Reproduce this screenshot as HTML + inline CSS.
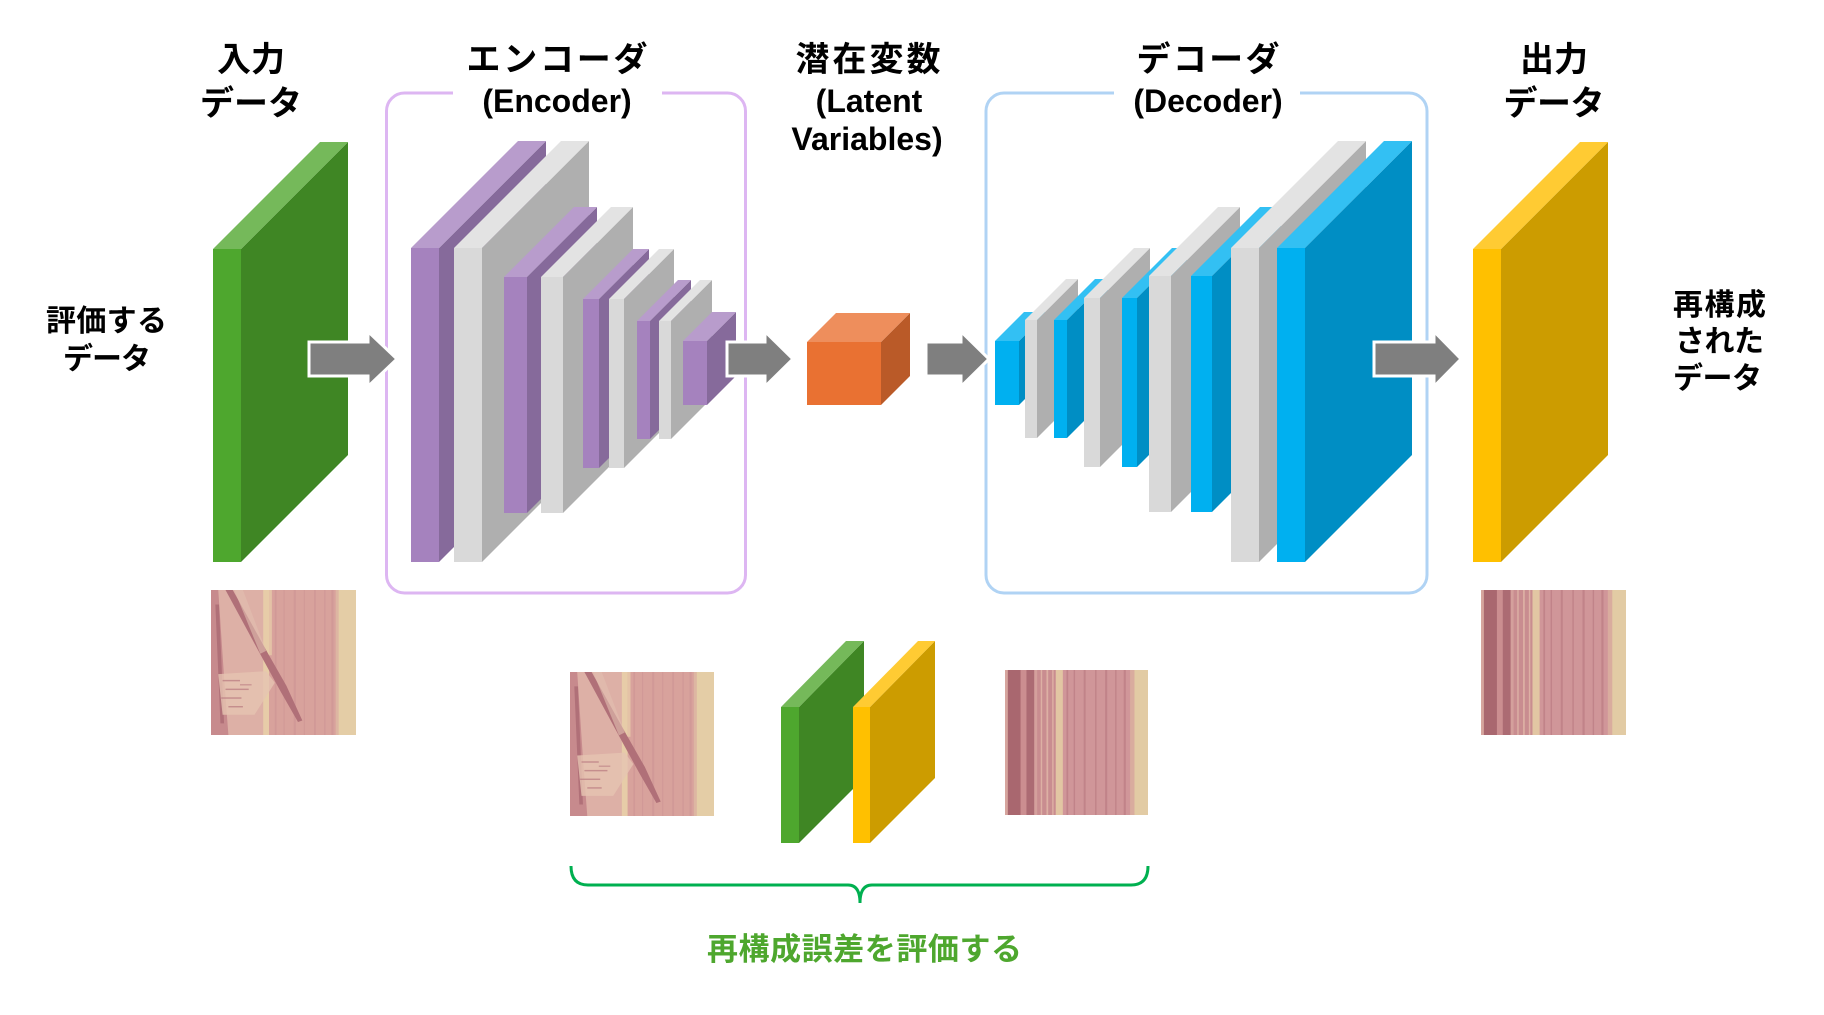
<!DOCTYPE html>
<html><head><meta charset="utf-8">
<style>
html,body{margin:0;padding:0;background:#fff;}
svg{display:block;}
text{font-family:"Liberation Sans","Noto Sans CJK JP",sans-serif;font-weight:bold;}
</style></head>
<body>
<svg width="1824" height="1015" viewBox="0 0 1824 1015" xmlns="http://www.w3.org/2000/svg">
<defs>
<symbol id="imgA" viewBox="0 0 100 100" preserveAspectRatio="none">
  <rect width="100" height="100" fill="#D8A29C"/>
  <rect x="0" y="0" width="38" height="100" fill="#DDB0A6"/>
  <g fill="#C98F92" opacity="0.45">
    <rect x="44" y="0" width="1.2" height="100"/><rect x="50" y="0" width="0.8" height="100"/>
    <rect x="57" y="0" width="1.5" height="100"/><rect x="64" y="0" width="0.8" height="100"/>
    <rect x="71" y="0" width="1.3" height="100"/><rect x="78" y="0" width="1" height="100"/>
    <rect x="83" y="0" width="1.5" height="100"/>
  </g>
  <rect x="36" y="0" width="4" height="100" fill="#E7CCA8"/>
  <rect x="86" y="0" width="2" height="100" fill="#DDB6A2"/>
  <rect x="88" y="0" width="12" height="100" fill="#E4CDA6"/>
  <polygon points="0,0 5,0 9,60 12,100 0,100" fill="#C78A8D"/>
  <polygon points="3,10 5.5,10 9,92 6.5,92" fill="#B07078"/>
  <polygon points="10,0 15,0 40,45 52,66 63,90 60,91 48,70 36,48" fill="#B07078"/>
  <polygon points="16,0 22,0 38,42 34,44" fill="#E3BFB0" opacity="0.6"/>
  <polygon points="5,58 38,56 44,64 30,86 8,86" fill="#E6C4B2" opacity="0.8"/>
  <g fill="#B97A80" opacity="0.7">
    <rect x="8" y="62" width="12" height="1"/><rect x="10" y="68" width="16" height="1"/>
    <rect x="7" y="74" width="14" height="1"/><rect x="12" y="80" width="10" height="1"/>
    <rect x="20" y="65" width="8" height="0.8"/>
  </g>
  <rect x="40" y="0" width="2" height="45" fill="#E9D0AB" opacity="0.7"/>
</symbol>
<symbol id="imgB" viewBox="0 0 100 100" preserveAspectRatio="none">
  <rect width="100" height="100" fill="#D39C9A"/>
  <rect x="0" y="0" width="2" height="100" fill="#D6A59E"/>
  <rect x="2" y="0" width="9" height="100" fill="#A9676F"/>
  <rect x="11" y="0" width="4" height="100" fill="#CB8E90"/>
  <rect x="15" y="0" width="5.5" height="100" fill="#AC6B73"/>
  <rect x="20.5" y="0" width="2" height="100" fill="#D4A09C"/>
  <rect x="22.5" y="0" width="13" height="100" fill="#C98D90"/>
  <g fill="#DDB0A4"><rect x="25" y="0" width="1" height="100"/><rect x="29" y="0" width="1.2" height="100"/><rect x="33" y="0" width="1" height="100"/></g>
  <rect x="35.5" y="0" width="5" height="100" fill="#E2C6A3"/>
  <rect x="40.5" y="0" width="47" height="100" fill="#D09699"/>
  <g fill="#B87880" opacity="0.6">
    <rect x="43" y="0" width="1.2" height="100"/><rect x="48" y="0" width="1" height="100"/>
    <rect x="55" y="0" width="1.4" height="100"/><rect x="63" y="0" width="1" height="100"/>
    <rect x="70" y="0" width="1.5" height="100"/><rect x="77" y="0" width="1" height="100"/>
    <rect x="83" y="0" width="1.5" height="100"/>
  </g>
  <rect x="87.5" y="0" width="3" height="100" fill="#D9AC9E"/>
  <rect x="90.5" y="0" width="9.5" height="100" fill="#E2CBA4"/>
</symbol>
</defs>

<!-- Titles -->
<g fill="#000">
  <text x="251" y="71" font-size="34" text-anchor="middle" textLength="68" lengthAdjust="spacing">入力</text>
  <text x="251" y="115" font-size="34" text-anchor="middle" textLength="102" lengthAdjust="spacing">データ</text>
  <text x="557" y="71" font-size="34" text-anchor="middle" textLength="181" lengthAdjust="spacing">エンコーダ</text>
  <text x="557" y="112" font-size="32" text-anchor="middle">(Encoder)</text>
  <text x="868" y="71" font-size="34" text-anchor="middle" textLength="145" lengthAdjust="spacing">潜在変数</text>
  <text x="869" y="112" font-size="32" text-anchor="middle">(Latent</text>
  <text x="867" y="150" font-size="32" text-anchor="middle">Variables)</text>
  <text x="1208" y="71" font-size="34" text-anchor="middle" textLength="143" lengthAdjust="spacing">デコーダ</text>
  <text x="1208" y="112" font-size="32" text-anchor="middle">(Decoder)</text>
  <text x="1554" y="71" font-size="34" text-anchor="middle" textLength="68" lengthAdjust="spacing">出力</text>
  <text x="1554" y="115" font-size="34" text-anchor="middle" textLength="101" lengthAdjust="spacing">データ</text>
  <text x="106.5" y="331" font-size="30" text-anchor="middle" textLength="121" lengthAdjust="spacing">評価する</text>
  <text x="107" y="369" font-size="30" text-anchor="middle" textLength="88" lengthAdjust="spacing">データ</text>
  <text x="1719.5" y="315" font-size="30" text-anchor="middle" textLength="93" lengthAdjust="spacing">再構成</text>
  <text x="1719.5" y="351.5" font-size="30" text-anchor="middle" textLength="89" lengthAdjust="spacing">された</text>
  <text x="1717.5" y="388.5" font-size="30" text-anchor="middle" textLength="89" lengthAdjust="spacing">データ</text>
</g>

<!-- Boxes -->
<path d="M453,93 L404.5,93 A18,18 0 0 0 386.5,111 L386.5,575 A18,18 0 0 0 404.5,593 L727.5,593 A18,18 0 0 0 745.5,575 L745.5,111 A18,18 0 0 0 727.5,93 L662,93" fill="none" stroke="#DDB6F2" stroke-width="3"/>
<path d="M1114,93 L1004,93 A18,18 0 0 0 986,111 L986,575 A18,18 0 0 0 1004,593 L1409,593 A18,18 0 0 0 1427,575 L1427,111 A18,18 0 0 0 1409,93 L1300,93" fill="none" stroke="#B0D3F4" stroke-width="3"/>

<!-- Input green -->
<polygon points="241,249 348,142 348,455 241,562" fill="#3F8624"/>
<polygon points="213,249 320,142 348,142 241,249" fill="#75B95A"/>
<rect x="213" y="249" width="28" height="313" fill="#4EA72E"/>

<!-- Encoder layers -->
<g>
<polygon points="439,248 546,141 546,455 439,562" fill="#866A9B"/>
<polygon points="411,248 518,141 546,141 439,248" fill="#B89CCC"/>
<rect x="411" y="248" width="28" height="314" fill="#A582BE"/>

<polygon points="482,248 589,141 589,455 482,562" fill="#AFAFAF"/>
<polygon points="454,248 561,141 589,141 482,248" fill="#E3E3E3"/>
<rect x="454" y="248" width="28" height="314" fill="#D9D9D9"/>

<polygon points="527,277 597,207 597,443 527,513" fill="#866A9B"/>
<polygon points="504,277 574,207 597,207 527,277" fill="#B89CCC"/>
<rect x="504" y="277" width="23" height="236" fill="#A582BE"/>

<polygon points="563,277 633,207 633,443 563,513" fill="#AFAFAF"/>
<polygon points="541,277 611,207 633,207 563,277" fill="#E3E3E3"/>
<rect x="541" y="277" width="22" height="236" fill="#D9D9D9"/>

<polygon points="599,299 649,249 649,418 599,468" fill="#866A9B"/>
<polygon points="583,299 633,249 649,249 599,299" fill="#B89CCC"/>
<rect x="583" y="299" width="16" height="169" fill="#A582BE"/>

<polygon points="624,299 674,249 674,418 624,468" fill="#AFAFAF"/>
<polygon points="609,299 659,249 674,249 624,299" fill="#E3E3E3"/>
<rect x="609" y="299" width="15" height="169" fill="#D9D9D9"/>

<polygon points="650,321 691,280 691,398 650,439" fill="#866A9B"/>
<polygon points="637,321 678,280 691,280 650,321" fill="#B89CCC"/>
<rect x="637" y="321" width="13" height="118" fill="#A582BE"/>

<polygon points="671,321 712,280 712,398 671,439" fill="#AFAFAF"/>
<polygon points="659,321 700,280 712,280 671,321" fill="#E3E3E3"/>
<rect x="659" y="321" width="12" height="118" fill="#D9D9D9"/>

<polygon points="707,341 736,312 736,376 707,405" fill="#866A9B"/>
<polygon points="683,341 712,312 736,312 707,341" fill="#B89CCC"/>
<rect x="683" y="341" width="24" height="64" fill="#A582BE"/>
</g>

<!-- Latent cube -->
<polygon points="881,342 910,313 910,376 881,405" fill="#BA5A28"/>
<polygon points="807,342 836,313 910,313 881,342" fill="#EE8E5C"/>
<rect x="807" y="342" width="74" height="63" fill="#E97132"/>

<!-- Decoder layers -->
<g>
<polygon points="1019,341 1048,312 1048,376 1019,405" fill="#008EC4"/>
<polygon points="995,341 1024,312 1048,312 1019,341" fill="#33C0F3"/>
<rect x="995" y="341" width="24" height="64" fill="#00B0F0"/>

<polygon points="1037,320 1078,279 1078,397 1037,438" fill="#AFAFAF"/>
<polygon points="1025,320 1066,279 1078,279 1037,320" fill="#E3E3E3"/>
<rect x="1025" y="320" width="12" height="118" fill="#D9D9D9"/>

<polygon points="1067,320 1108,279 1108,397 1067,438" fill="#008EC4"/>
<polygon points="1054,320 1095,279 1108,279 1067,320" fill="#33C0F3"/>
<rect x="1054" y="320" width="13" height="118" fill="#00B0F0"/>

<polygon points="1100,298 1150,248 1150,417 1100,467" fill="#AFAFAF"/>
<polygon points="1084,298 1134,248 1150,248 1100,298" fill="#E3E3E3"/>
<rect x="1084" y="298" width="16" height="169" fill="#D9D9D9"/>

<polygon points="1137,298 1187,248 1187,417 1137,467" fill="#008EC4"/>
<polygon points="1122,298 1172,248 1187,248 1137,298" fill="#33C0F3"/>
<rect x="1122" y="298" width="15" height="169" fill="#00B0F0"/>

<polygon points="1171,276 1240,207 1240,443 1171,512" fill="#AFAFAF"/>
<polygon points="1149,276 1218,207 1240,207 1171,276" fill="#E3E3E3"/>
<rect x="1149" y="276" width="22" height="236" fill="#D9D9D9"/>

<polygon points="1212,276 1281,207 1281,443 1212,512" fill="#008EC4"/>
<polygon points="1191,276 1260,207 1281,207 1212,276" fill="#33C0F3"/>
<rect x="1191" y="276" width="21" height="236" fill="#00B0F0"/>

<polygon points="1259,248 1366,141 1366,455 1259,562" fill="#AFAFAF"/>
<polygon points="1231,248 1338,141 1366,141 1259,248" fill="#E3E3E3"/>
<rect x="1231" y="248" width="28" height="314" fill="#D9D9D9"/>

<polygon points="1305,248 1412,141 1412,455 1305,562" fill="#008EC4"/>
<polygon points="1277,248 1384,141 1412,141 1305,248" fill="#33C0F3"/>
<rect x="1277" y="248" width="28" height="314" fill="#00B0F0"/>
</g>

<!-- Output yellow -->
<polygon points="1501,249 1608,142 1608,455 1501,562" fill="#CC9C00"/>
<polygon points="1473,249 1580,142 1608,142 1501,249" fill="#FFCB33"/>
<rect x="1473" y="249" width="28" height="313" fill="#FFC000"/>

<!-- Arrows -->
<g fill="#7F7F7F" stroke="#FFFFFF" stroke-width="3" stroke-linejoin="miter">
  <polygon points="309,342 368,342 368,331.5 397,359 368,386.5 368,376 309,376"/>
  <polygon points="727,342 765,342 765,331.5 793,359 765,386.5 765,376 727,376"/>
  <polygon points="926,342 961,342 961,331.5 989,359 961,386.5 961,376 926,376"/>
  <polygon points="1374,342 1434,342 1434,331.5 1461,359 1434,386.5 1434,376 1374,376"/>
</g>

<!-- Images -->
<use href="#imgA" x="211" y="590" width="145" height="145"/>
<use href="#imgA" x="570" y="672" width="144" height="144"/>
<use href="#imgB" x="1005" y="670" width="143" height="145"/>
<use href="#imgB" x="1481" y="590" width="145" height="145"/>

<!-- Small comparison panels -->
<polygon points="799,707 864,641 864,778 799,843" fill="#3F8624"/>
<polygon points="781,707 846,641 864,641 799,707" fill="#75B95A"/>
<rect x="781" y="707" width="18" height="136" fill="#4EA72E"/>
<polygon points="870,707 935,641 935,778 870,843" fill="#CC9C00"/>
<polygon points="853,707 918,641 935,641 870,707" fill="#FFCB33"/>
<rect x="853" y="707" width="17" height="136" fill="#FFC000"/>

<!-- Bracket -->
<path d="M571,866 Q571,885 588,885 L848,885 Q860,885 860,903 Q860,885 872,885 L1131,885 Q1148,885 1148,866" fill="none" stroke="#00B050" stroke-width="3"/>

<text x="864.5" y="960" font-size="31" fill="#4EA72E" text-anchor="middle" textLength="315" lengthAdjust="spacing">再構成誤差を評価する</text>
</svg>
</body></html>
